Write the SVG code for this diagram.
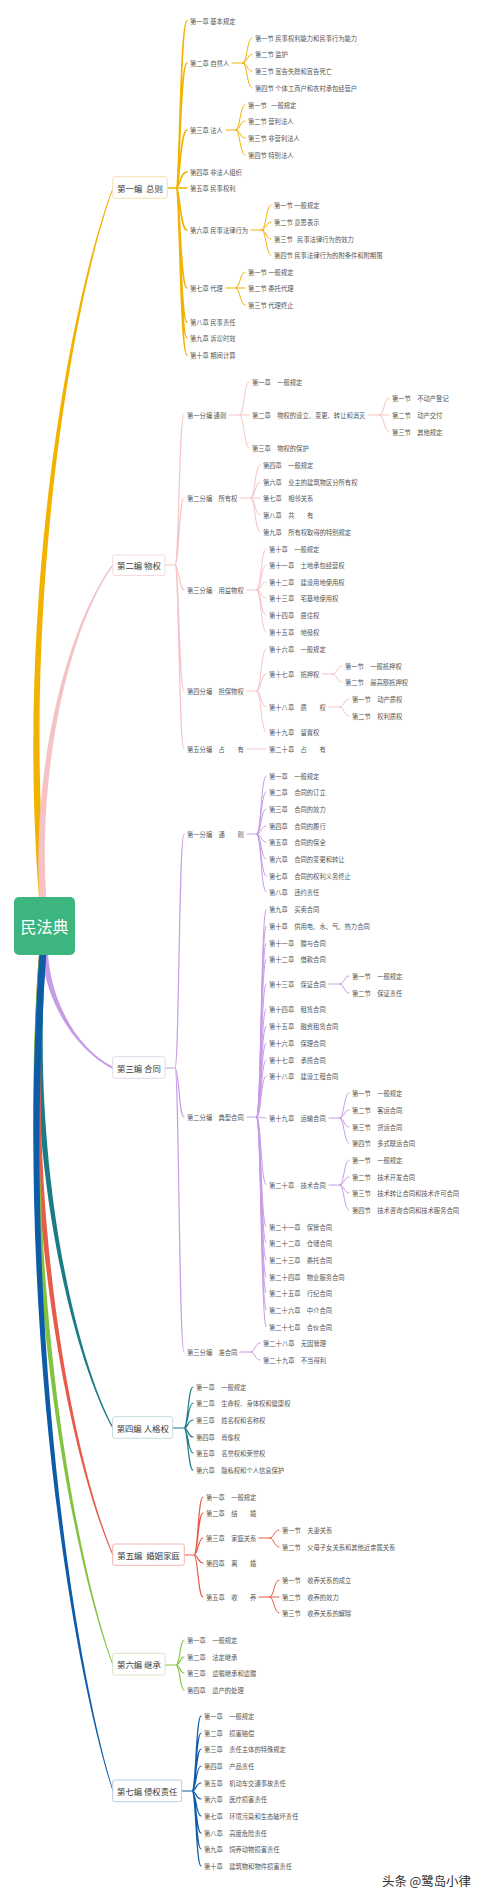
<svg xmlns="http://www.w3.org/2000/svg" width="480" height="1898" viewBox="0 0 480 1898">
<style>
text{font-family:"Noto Sans CJK SC","Noto Sans",sans-serif}
.t{font-size:6.3px;fill:#555;dominant-baseline:central;white-space:pre}
.n{font-size:8.4px;fill:#3a3a3a;text-anchor:middle;dominant-baseline:central;white-space:pre}
.box{fill:#fff;stroke-width:1}
.c{fill:none;stroke-linecap:round;stroke-linejoin:round}
.o{stroke:#F2B200}.p{stroke:#F5C3C6}.u{stroke:#C69CE6}.te{stroke:#1B7C86}.r{stroke:#E65B4A}.g{stroke:#82C341}.b{stroke:#0E5BA8}
.w1{stroke-width:1.6}.w2{stroke-width:1.2}.w3{stroke-width:1}
</style>
<rect width="480" height="1898" fill="#fff"/>
<g id="connectors">
<g id="main-branches">
<path fill="#F2B200" d="M41.5 926C12 616 68.5 304 113 186.7L113 189.3C71.5 304 18 616 48.5 926Z"/>
<path fill="#F5C3C6" d="M41.5 926C26.5 774 68.5 622 113 563.7L113 566.3C71.5 622 32.5 774 48.5 926Z"/>
<path fill="#C69CE6" d="M41.5 926C36 986 68.5 1046 113 1069.3L113 1066.7C71.5 1046 42 986 48.5 926Z"/>
<path fill="#1B7C86" d="M41.5 926C20.5 1137 68.5 1349 113 1429.3L113 1426.7C71.5 1349 26.5 1137 48.5 926Z"/>
<path fill="#E65B4A" d="M41.5 926C15 1190 68.5 1456 113 1556.3L113 1553.7C71.5 1456 21 1190 48.5 926Z"/>
<path fill="#82C341" d="M41.5 926C12 1236 68.5 1549 113 1666.3L113 1663.7C71.5 1549 18 1236 48.5 926Z"/>
<path fill="#0E5BA8" d="M41.5 926C12 1289 68.5 1655 113 1792.3L113 1789.7C71.5 1655 18 1289 48.5 926Z"/>
</g>
<g class="c o w1">
<path d="M167 188H176M176 188C180 188 180 21 187 21M176 188C180 188 180 63 187 63M176 188C180 188 180 130 187 130M176 188C180 188 180 172 187 172M176 188H187M176 188C180 188 180 230 187 230M176 188C180 188 180 288 187 288M176 188C180 188 180 322 187 322M176 188C180 188 180 338 187 338M176 188C180 188 180 355 187 355"/>
</g>
<g class="c o w3">
<path d="M232 63H243M243 63C247 63 247 38 252 38M243 63C247 63 247 54.5 252 54.5M243 63C247 63 247 71 252 71M243 63C247 63 247 88 252 88"/>
<path d="M226 130H236M236 130C240 130 240 105 245 105M236 130C240 130 240 121 245 121M236 130C240 130 240 138 245 138M236 130C240 130 240 155 245 155"/>
<path d="M251 230H262M262 230C266 230 266 205 271 205M262 230C266 230 266 222 271 222M262 230C266 230 266 239 271 239M262 230C266 230 266 255 271 255"/>
<path d="M226 288H236M236 288C240 288 240 272 245 272M236 288H245M236 288C240 288 240 305 245 305"/>
</g>
<g class="c p w2">
<path d="M165 565H175M175 565C179 565 179 415 184 415M175 565C179 565 179 498 184 498M175 565C179 565 179 590 184 590M175 565C179 565 179 691 184 691M175 565C179 565 179 749 184 749"/>
</g>
<g class="c p w3">
<path d="M229 415H240M240 415C244 415 244 382 249 382M240 415H249M240 415C244 415 244 448 249 448"/>
<path d="M368 415H380M380 415C384 415 384 398 389 398M380 415H389M380 415C384 415 384 432 389 432"/>
<path d="M240 498H251M251 498C255 498 255 465 260 465M251 498C255 498 255 482 260 482M251 498H260M251 498C255 498 255 515 260 515M251 498C255 498 255 532 260 532"/>
<path d="M247 590H257M257 590C261 590 261 549 266 549M257 590C261 590 261 565 266 565M257 590C261 590 261 582 266 582M257 590C261 590 261 598 266 598M257 590C261 590 261 615 266 615M257 590C261 590 261 632 266 632"/>
<path d="M247 691H257M257 691C261 691 261 649 266 649M257 691C261 691 261 674 266 674M257 691C261 691 261 707 266 707M257 691C261 691 261 732 266 732"/>
<path d="M322 674H333M333 674C337 674 337 666 342 666M333 674C337 674 337 682 342 682"/>
<path d="M329 707H340M340 707C344 707 344 699 349 699M340 707C344 707 344 716 349 716"/>
<path d="M247 749H266"/>
</g>
<g class="c u w2">
<path d="M165 1068H175M175 1068C179 1068 179 834 184 834M175 1068C179 1068 179 1117 184 1117M175 1068C179 1068 179 1352 184 1352"/>
</g>
<g class="c u w3">
<path d="M247 834H257M257 834C261 834 261 776 266 776M257 834C261 834 261 792 266 792M257 834C261 834 261 809 266 809M257 834C261 834 261 826 266 826M257 834C261 834 261 842 266 842M257 834C261 834 261 859 266 859M257 834C261 834 261 876 266 876M257 834C261 834 261 892 266 892"/>
<path d="M247 1117H257M257 1117C261 1117 261 909 266 909M257 1117C261 1117 261 926 266 926M257 1117C261 1117 261 943 266 943M257 1117C261 1117 261 959 266 959M257 1117C261 1117 261 984 266 984M257 1117C261 1117 261 1009 266 1009M257 1117C261 1117 261 1026 266 1026M257 1117C261 1117 261 1043 266 1043M257 1117C261 1117 261 1060 266 1060M257 1117C261 1117 261 1076 266 1076M257 1117C261 1117 261 1118 266 1118M257 1117C261 1117 261 1185 266 1185M257 1117C261 1117 261 1227 266 1227M257 1117C261 1117 261 1243 266 1243M257 1117C261 1117 261 1260 266 1260M257 1117C261 1117 261 1277 266 1277M257 1117C261 1117 261 1293 266 1293M257 1117C261 1117 261 1310 266 1310M257 1117C261 1117 261 1327 266 1327"/>
<path d="M329 984H340M340 984C344 984 344 976 349 976M340 984C344 984 344 993 349 993"/>
<path d="M329 1118H340M340 1118C344 1118 344 1093 349 1093M340 1118C344 1118 344 1110 349 1110M340 1118C344 1118 344 1127 349 1127M340 1118C344 1118 344 1143 349 1143"/>
<path d="M329 1185H340M340 1185C344 1185 344 1160 349 1160M340 1185C344 1185 344 1177 349 1177M340 1185C344 1185 344 1193 349 1193M340 1185C344 1185 344 1210 349 1210"/>
<path d="M240 1352H251M251 1352C255 1352 255 1343 260 1343M251 1352C255 1352 255 1360 260 1360"/>
</g>
<g class="c te w2">
<path d="M173 1428H184M184 1428C188 1428 188 1387 193 1387M184 1428C188 1428 188 1403 193 1403M184 1428C188 1428 188 1420 193 1420M184 1428C188 1428 188 1437 193 1437M184 1428C188 1428 188 1453 193 1453M184 1428C188 1428 188 1470 193 1470"/>
</g>
<g class="c r w2">
<path d="M184 1555H194M194 1555C198 1555 198 1497 203 1497M194 1555C198 1555 198 1513 203 1513M194 1555C198 1555 198 1538 203 1538M194 1555C198 1555 198 1563 203 1563M194 1555C198 1555 198 1597 203 1597"/>
</g>
<g class="c r w3">
<path d="M259 1538H270M270 1538C274 1538 274 1530 279 1530M270 1538C274 1538 274 1547 279 1547"/>
<path d="M259 1597H270M270 1597C274 1597 274 1580 279 1580M270 1597H279M270 1597C274 1597 274 1613 279 1613"/>
</g>
<g class="c g w2">
<path d="M165 1665H176M176 1665C180 1665 180 1640 184 1640M176 1665C180 1665 180 1657 184 1657M176 1665C180 1665 180 1673 184 1673M176 1665C180 1665 180 1690 184 1690"/>
</g>
<g class="c b w2">
<path d="M182 1791H192M192 1791C196 1791 196 1716 201 1716M192 1791C196 1791 196 1733 201 1733M192 1791C196 1791 196 1749 201 1749M192 1791C196 1791 196 1766 201 1766M192 1791C196 1791 196 1783 201 1783M192 1791C196 1791 196 1799 201 1799M192 1791C196 1791 196 1816 201 1816M192 1791C196 1791 196 1833 201 1833M192 1791C196 1791 196 1849 201 1849M192 1791C196 1791 196 1866 201 1866"/>
</g>
</g>

<g id="root"><rect x="14" y="897" width="61" height="58" rx="5" fill="#3DB57F"/><text x="44.5" y="926" font-size="16" fill="#fff" text-anchor="middle" dominant-baseline="central">民法典</text></g>

<g id="b1"><rect class="box" x="112.7" y="176.7" width="54.6" height="21.6" rx="2" stroke="#F5DFB0"/><text class="n" x="140" y="187.5">第一编  总则</text></g>
<g id="b1c1"><text class="t" x="190" y="21">第一章 基本规定</text></g>
<g id="b1c2"><text class="t" x="190" y="63">第二章 自然人</text></g>
<g id="b1c2s1"><text class="t" x="255" y="38">第一节 民事权利能力和民事行为能力</text></g>
<g id="b1c2s2"><text class="t" x="255" y="54.5">第二节 监护</text></g>
<g id="b1c2s3"><text class="t" x="255" y="71">第三节 宣告失踪和宣告死亡</text></g>
<g id="b1c2s4"><text class="t" x="255" y="88">第四节 个体工商户和农村承包经营户</text></g>
<g id="b1c3"><text class="t" x="190" y="130">第三章 法人</text></g>
<g id="b1c3s1"><text class="t" x="248" y="105">第一节   一般规定</text></g>
<g id="b1c3s2"><text class="t" x="248" y="121">第二节 营利法人</text></g>
<g id="b1c3s3"><text class="t" x="248" y="138">第三节 非营利法人</text></g>
<g id="b1c3s4"><text class="t" x="248" y="155">第四节 特别法人</text></g>
<g id="b1c4"><text class="t" x="190" y="172">第四章 非法人组织</text></g>
<g id="b1c5"><text class="t" x="190" y="188">第五章 民事权利</text></g>
<g id="b1c6"><text class="t" x="190" y="230">第六章 民事法律行为</text></g>
<g id="b1c6s1"><text class="t" x="274" y="205">第一节 一般规定</text></g>
<g id="b1c6s2"><text class="t" x="274" y="222">第二节 意思表示</text></g>
<g id="b1c6s3"><text class="t" x="274" y="239">第三节   民事法律行为的效力</text></g>
<g id="b1c6s4"><text class="t" x="274" y="255">第四节 民事法律行为的附条件和附期限</text></g>
<g id="b1c7"><text class="t" x="190" y="288">第七章 代理</text></g>
<g id="b1c7s1"><text class="t" x="248" y="272">第一节 一般规定</text></g>
<g id="b1c7s2"><text class="t" x="248" y="288">第二节 委托代理</text></g>
<g id="b1c7s3"><text class="t" x="248" y="305">第三节 代理终止</text></g>
<g id="b1c8"><text class="t" x="190" y="322">第八章 民事责任</text></g>
<g id="b1c9"><text class="t" x="190" y="338">第九章 诉讼时效</text></g>
<g id="b1c10"><text class="t" x="190" y="355">第十章 期间计算</text></g>

<g id="b2"><rect class="box" x="112.7" y="555" width="52.3" height="20.5" rx="2" stroke="#F5D9DA"/><text class="n" x="139" y="565">第二编 物权</text></g>
<g id="b2p1"><text class="t" x="187" y="415">第一分编 通则</text></g>
<g id="b2p1c1"><text class="t" x="252" y="382">第一章　一般规定</text></g>
<g id="b2p1c2"><text class="t" x="252" y="415">第二章　物权的设立、变更、转让和消灭</text></g>
<g id="b2p1c2s1"><text class="t" x="392" y="398">第一节　不动产登记</text></g>
<g id="b2p1c2s2"><text class="t" x="392" y="415">第二节　动产交付</text></g>
<g id="b2p1c2s3"><text class="t" x="392" y="432">第三节　其他规定</text></g>
<g id="b2p1c3"><text class="t" x="252" y="448">第三章　物权的保护</text></g>
<g id="b2p2"><text class="t" x="187" y="498">第二分编　所有权</text></g>
<g id="b2p2c4"><text class="t" x="263" y="465">第四章　一般规定</text></g>
<g id="b2p2c6"><text class="t" x="263" y="482">第六章　业主的建筑物区分所有权</text></g>
<g id="b2p2c7"><text class="t" x="263" y="498">第七章　相邻关系</text></g>
<g id="b2p2c8"><text class="t" x="263" y="515">第八章　共　　有</text></g>
<g id="b2p2c9"><text class="t" x="263" y="532">第九章　所有权取得的特别规定</text></g>
<g id="b2p3"><text class="t" x="187" y="590">第三分编　用益物权</text></g>
<g id="b2p3c10"><text class="t" x="269" y="549">第十章　一般规定</text></g>
<g id="b2p3c11"><text class="t" x="269" y="565">第十一章　土地承包经营权</text></g>
<g id="b2p3c12"><text class="t" x="269" y="582">第十二章　建设用地使用权</text></g>
<g id="b2p3c13"><text class="t" x="269" y="598">第十三章　宅基地使用权</text></g>
<g id="b2p3c14"><text class="t" x="269" y="615">第十四章　居住权</text></g>
<g id="b2p3c15"><text class="t" x="269" y="632">第十五章　地役权</text></g>
<g id="b2p4"><text class="t" x="187" y="691">第四分编　担保物权</text></g>
<g id="b2p4c16"><text class="t" x="269" y="649">第十六章　一般规定</text></g>
<g id="b2p4c17"><text class="t" x="269" y="674">第十七章　抵押权</text></g>
<g id="b2p4c17s1"><text class="t" x="345" y="666">第一节　一般抵押权</text></g>
<g id="b2p4c17s2"><text class="t" x="345" y="682">第二节　最高额抵押权</text></g>
<g id="b2p4c18"><text class="t" x="269" y="707">第十八章　质　　权</text></g>
<g id="b2p4c18s1"><text class="t" x="352" y="699">第一节　动产质权</text></g>
<g id="b2p4c18s2"><text class="t" x="352" y="716">第二节　权利质权</text></g>
<g id="b2p4c19"><text class="t" x="269" y="732">第十九章　留置权</text></g>
<g id="b2p5"><text class="t" x="187" y="749">第五分编　占　　有</text></g>
<g id="b2p5c20"><text class="t" x="269" y="749">第二十章　占　　有</text></g>

<g id="b3"><rect class="box" x="112.7" y="1056.7" width="52.3" height="21.6" rx="2" stroke="#E2D8EA"/><text class="n" x="139" y="1067.5">第三编 合同</text></g>
<g id="b3p1"><text class="t" x="187" y="834">第一分编　通　　则</text></g>
<g id="b3p1c1"><text class="t" x="269" y="776">第一章　一般规定</text></g>
<g id="b3p1c2"><text class="t" x="269" y="792">第二章　合同的订立</text></g>
<g id="b3p1c3"><text class="t" x="269" y="809">第三章　合同的效力</text></g>
<g id="b3p1c4"><text class="t" x="269" y="826">第四章　合同的履行</text></g>
<g id="b3p1c5"><text class="t" x="269" y="842">第五章　合同的保全</text></g>
<g id="b3p1c6"><text class="t" x="269" y="859">第六章　合同的变更和转让</text></g>
<g id="b3p1c7"><text class="t" x="269" y="876">第七章　合同的权利义务终止</text></g>
<g id="b3p1c8"><text class="t" x="269" y="892">第八章　违约责任</text></g>
<g id="b3p2"><text class="t" x="187" y="1117">第二分编　典型合同</text></g>
<g id="b3p2c9"><text class="t" x="269" y="909">第九章　买卖合同</text></g>
<g id="b3p2c10"><text class="t" x="269" y="926">第十章　供用电、水、气、热力合同</text></g>
<g id="b3p2c11"><text class="t" x="269" y="943">第十一章　赠与合同</text></g>
<g id="b3p2c12"><text class="t" x="269" y="959">第十二章　借款合同</text></g>
<g id="b3p2c13"><text class="t" x="269" y="984">第十三章　保证合同</text></g>
<g id="b3p2c13s1"><text class="t" x="352" y="976">第一节　一般规定</text></g>
<g id="b3p2c13s2"><text class="t" x="352" y="993">第二节　保证责任</text></g>
<g id="b3p2c14"><text class="t" x="269" y="1009">第十四章　租赁合同</text></g>
<g id="b3p2c15"><text class="t" x="269" y="1026">第十五章　融资租赁合同</text></g>
<g id="b3p2c16"><text class="t" x="269" y="1043">第十六章　保理合同</text></g>
<g id="b3p2c17"><text class="t" x="269" y="1060">第十七章　承揽合同</text></g>
<g id="b3p2c18"><text class="t" x="269" y="1076">第十八章　建设工程合同</text></g>
<g id="b3p2c19"><text class="t" x="269" y="1118">第十九章　运输合同</text></g>
<g id="b3p2c19s1"><text class="t" x="352" y="1093">第一节　一般规定</text></g>
<g id="b3p2c19s2"><text class="t" x="352" y="1110">第二节　客运合同</text></g>
<g id="b3p2c19s3"><text class="t" x="352" y="1127">第三节　货运合同</text></g>
<g id="b3p2c19s4"><text class="t" x="352" y="1143">第四节　多式联运合同</text></g>
<g id="b3p2c20"><text class="t" x="269" y="1185">第二十章　技术合同</text></g>
<g id="b3p2c20s1"><text class="t" x="352" y="1160">第一节　一般规定</text></g>
<g id="b3p2c20s2"><text class="t" x="352" y="1177">第二节　技术开发合同</text></g>
<g id="b3p2c20s3"><text class="t" x="352" y="1193">第三节　技术转让合同和技术许可合同</text></g>
<g id="b3p2c20s4"><text class="t" x="352" y="1210">第四节　技术咨询合同和技术服务合同</text></g>
<g id="b3p2c21"><text class="t" x="269" y="1227">第二十一章　保管合同</text></g>
<g id="b3p2c22"><text class="t" x="269" y="1243">第二十二章　仓储合同</text></g>
<g id="b3p2c23"><text class="t" x="269" y="1260">第二十三章　委托合同</text></g>
<g id="b3p2c24"><text class="t" x="269" y="1277">第二十四章　物业服务合同</text></g>
<g id="b3p2c25"><text class="t" x="269" y="1293">第二十五章　行纪合同</text></g>
<g id="b3p2c26"><text class="t" x="269" y="1310">第二十六章　中介合同</text></g>
<g id="b3p2c27"><text class="t" x="269" y="1327">第二十七章　合伙合同</text></g>
<g id="b3p3"><text class="t" x="187" y="1352">第三分编　准合同</text></g>
<g id="b3p3c28"><text class="t" x="263" y="1343">第二十八章　无因管理</text></g>
<g id="b3p3c29"><text class="t" x="263" y="1360">第二十九章　不当得利</text></g>

<g id="b4"><rect class="box" x="112.7" y="1416.7" width="60" height="21.6" rx="2" stroke="#C6DCDF"/><text class="n" x="142.7" y="1427.5">第四编 人格权</text></g>
<g id="b4c1"><text class="t" x="196" y="1387">第一章　一般规定</text></g>
<g id="b4c2"><text class="t" x="196" y="1403">第二章　生命权、身体权和健康权</text></g>
<g id="b4c3"><text class="t" x="196" y="1420">第三章　姓名权和名称权</text></g>
<g id="b4c4"><text class="t" x="196" y="1437">第四章　肖像权</text></g>
<g id="b4c5"><text class="t" x="196" y="1453">第五章　名誉权和荣誉权</text></g>
<g id="b4c6"><text class="t" x="196" y="1470">第六章　隐私权和个人信息保护</text></g>

<g id="b5"><rect class="box" x="112.7" y="1544" width="71.6" height="21.3" rx="2" stroke="#F0B5AC"/><text class="n" x="148.5" y="1554.7">第五编  婚姻家庭</text></g>
<g id="b5c1"><text class="t" x="206" y="1497">第一章　一般规定</text></g>
<g id="b5c2"><text class="t" x="206" y="1513">第二章　结　　婚</text></g>
<g id="b5c3"><text class="t" x="206" y="1538">第三章　家庭关系</text></g>
<g id="b5c3s1"><text class="t" x="282" y="1530">第一节　夫妻关系</text></g>
<g id="b5c3s2"><text class="t" x="282" y="1547">第二节　父母子女关系和其他近亲属关系</text></g>
<g id="b5c4"><text class="t" x="206" y="1563">第四章　离　　婚</text></g>
<g id="b5c5"><text class="t" x="206" y="1597">第五章　收　　养</text></g>
<g id="b5c5s1"><text class="t" x="282" y="1580">第一节　收养关系的成立</text></g>
<g id="b5c5s2"><text class="t" x="282" y="1597">第二节　收养的效力</text></g>
<g id="b5c5s3"><text class="t" x="282" y="1613">第三节　收养关系的解除</text></g>

<g id="b6"><rect class="box" x="112.7" y="1653.3" width="52.3" height="21.7" rx="2" stroke="#D3E8C2"/><text class="n" x="139" y="1664.2">第六编 继承</text></g>
<g id="b6c1"><text class="t" x="187" y="1640">第一章　一般规定</text></g>
<g id="b6c2"><text class="t" x="187" y="1657">第二章　法定继承</text></g>
<g id="b6c3"><text class="t" x="187" y="1673">第三章　遗嘱继承和遗赠</text></g>
<g id="b6c4"><text class="t" x="187" y="1690">第四章　遗产的处理</text></g>

<g id="b7"><rect class="box" x="112.7" y="1780" width="69" height="21.7" rx="2" stroke="#B8CDE6"/><text class="n" x="147.2" y="1790.8">第七编 侵权责任</text></g>
<g id="b7c1"><text class="t" x="204" y="1716">第一章　一般规定</text></g>
<g id="b7c2"><text class="t" x="204" y="1733">第二章　损害赔偿</text></g>
<g id="b7c3"><text class="t" x="204" y="1749">第三章　责任主体的特殊规定</text></g>
<g id="b7c4"><text class="t" x="204" y="1766">第四章　产品责任</text></g>
<g id="b7c5"><text class="t" x="204" y="1783">第五章　机动车交通事故责任</text></g>
<g id="b7c6"><text class="t" x="204" y="1799">第六章　医疗损害责任</text></g>
<g id="b7c7"><text class="t" x="204" y="1816">第七章　环境污染和生态破坏责任</text></g>
<g id="b7c8"><text class="t" x="204" y="1833">第八章　高度危险责任</text></g>
<g id="b7c9"><text class="t" x="204" y="1849">第九章　饲养动物损害责任</text></g>
<g id="b7c10"><text class="t" x="204" y="1866">第十章　建筑物和物件损害责任</text></g>

<g id="watermark"><text x="382" y="1881" font-size="12.4" fill="#2d2d2d" dominant-baseline="central">头条 @鹭岛小律</text></g>
</svg>
